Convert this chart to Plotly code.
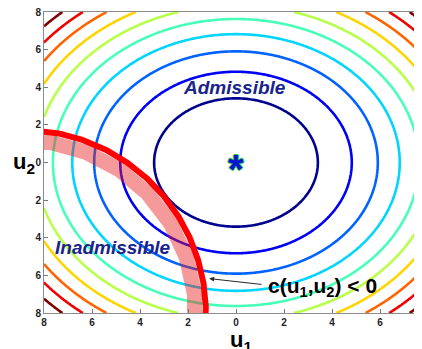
import numpy as np
import plotly.graph_objects as go

# ---- data ----
u_min, u_max = -8.0, 8.0
x_view_max = 7.75
n_levels = 11                      # levels = f_max * k / n_levels
tick_vals = [-8, -6, -4, -2, 0, 2, 4, 6, 8]
tick_text = ["8", "6", "4", "2", "0", "2", "4", "6", "8"]
optimum = [0.0, 0.0]
constraint_center = [-8.875, -8.0]
constraint_radii = [7.62, 9.73]
band_scale = 0.943

jet = [[0.0, "rgb(0,0,143)"], [0.125, "rgb(0,0,255)"], [0.375, "rgb(0,255,255)"],
       [0.625, "rgb(255,255,0)"], [0.875, "rgb(255,0,0)"], [1.0, "rgb(128,0,0)"]]

u = np.linspace(u_min, u_max, 321)
U1, U2 = np.meshgrid(u, u)
F = (U1 - optimum[0]) ** 2 + (U2 - optimum[1]) ** 2
f_max = u_max ** 2 + u_max ** 2
step = f_max / n_levels
start, end = step, step * (n_levels - 1)

fig = go.Figure()
fig.add_trace(go.Contour(
    x=u, y=u, z=F,
    contours=dict(start=start, end=end + 1e-6, size=step, coloring="lines"),
    colorscale=jet, zmin=start, zmax=end, zauto=False,
    line=dict(width=2.6), showscale=False, hoverinfo="skip",
))

th = np.linspace(-0.1, np.pi / 2 + 0.1, 300)
bx = constraint_center[0] + band_scale * constraint_radii[0] * np.cos(th)
by = constraint_center[1] + band_scale * constraint_radii[1] * np.sin(th)
fig.add_trace(go.Scatter(x=bx, y=by, mode="lines",
                         line=dict(color="rgba(232,30,30,0.45)", width=15),
                         hoverinfo="skip", showlegend=False))
cx = constraint_center[0] + constraint_radii[0] * np.cos(th)
cy = constraint_center[1] + constraint_radii[1] * np.sin(th)
fig.add_trace(go.Scatter(x=cx, y=cy, mode="lines",
                         line=dict(color="rgb(255,0,0)", width=6),
                         hoverinfo="skip", showlegend=False))

font_main = "Arial, Liberation Sans, sans-serif"
ann = []
# asterisk at optimum with green rim
ast_shift = -6
for dx, dy in [(-1, 0), (1, 0), (0, -1), (0, 1)]:
    ann.append(dict(x=optimum[0], y=optimum[1], xref="x", yref="y", text="<b>*</b>",
                    showarrow=False, xshift=dx, yshift=ast_shift + dy,
                    font=dict(family=font_main, size=40, color="rgb(40,200,60)")))
ann.append(dict(x=optimum[0], y=optimum[1], xref="x", yref="y", text="<b>*</b>",
                showarrow=False, yshift=ast_shift,
                font=dict(family=font_main, size=40, color="rgb(10,20,210)")))
ann.append(dict(x=-0.06, y=4.0, xref="x", yref="y", text="<b><i>Admissible</i></b>",
                showarrow=False, font=dict(family=font_main, size=19, color="rgb(25,35,140)")))
ann.append(dict(x=-5.12, y=-4.52, xref="x", yref="y", text="<b><i>Inadmissible</i></b>",
                showarrow=False, font=dict(family=font_main, size=19, color="rgb(25,35,140)")))
ann.append(dict(x=-1.12, y=-6.17, ax=1.12, ay=-6.49, xref="x", yref="y", axref="x", ayref="y",
                text="", showarrow=True, arrowhead=2, arrowsize=1, arrowwidth=1,
                arrowcolor="rgb(40,40,40)"))
ann.append(dict(x=3.6, y=-6.6, xref="x", yref="y",
                text="<b>c(u<sub>1</sub>,u<sub>2</sub>) &lt; 0</b>",
                showarrow=False, font=dict(family=font_main, size=21, color="black")))
ann.append(dict(x=-0.053, y=0.5, xref="paper", yref="paper", text="<b>u<sub>2</sub></b>",
                xanchor="center", yanchor="middle",
                showarrow=False, font=dict(family=font_main, size=22, color="black")))
ann.append(dict(x=0.52, y=-0.04, xref="paper", yref="paper", text="<b>u<sub>1</sub></b>",
                xanchor="center", yanchor="top",
                showarrow=False, font=dict(family=font_main, size=22, color="black")))

axis_common = dict(tickvals=tick_vals, ticktext=tick_text, ticks="inside", ticklen=4,
                   tickcolor="rgb(120,120,120)", showline=True, linecolor="rgb(140,140,140)",
                   linewidth=1, mirror=True, showgrid=False, zeroline=False, automargin=False,
                   ticklabeloverflow="allow",
                   tickfont=dict(family=font_main, size=10, color="rgb(30,30,30)", weight="bold"))

# page body has an 8px margin: figure is shifted accordingly
fig.update_layout(
    width=414, height=341, margin=dict(l=36, r=0, t=4, b=36),
    paper_bgcolor="white", plot_bgcolor="white", showlegend=False,
    xaxis=dict(range=[u_min, x_view_max], **axis_common),
    yaxis=dict(range=[u_min, u_max], **axis_common),
    annotations=ann,
)
fig.write_html("out.html")
